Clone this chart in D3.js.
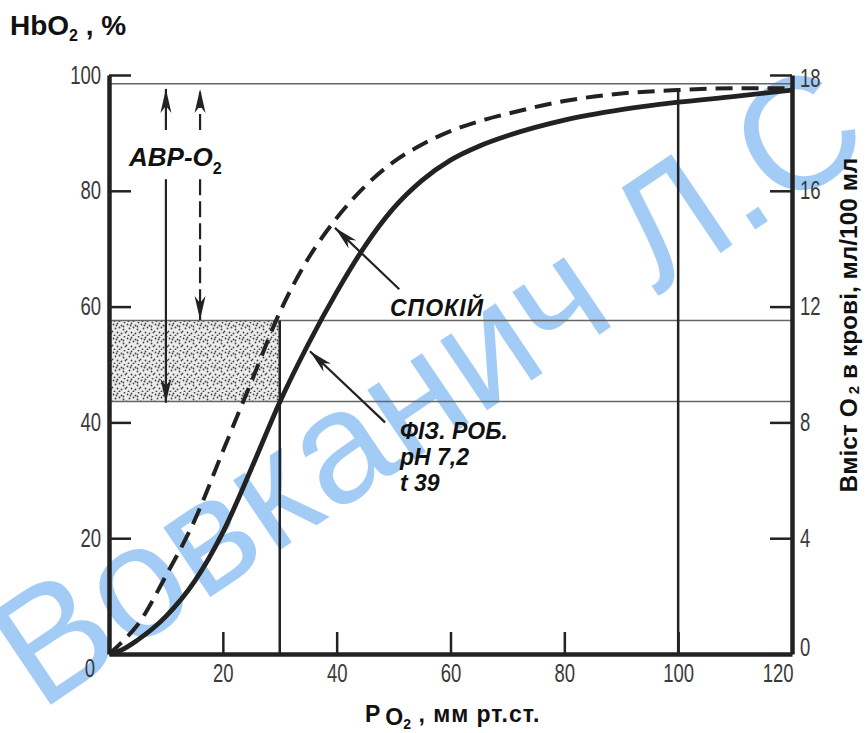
<!DOCTYPE html>
<meta charset="utf-8">
<html>
<style>
  body { margin: 0; background: #fff; }
  .axis path, .axis line { stroke: #222; }
  .axis text { font-family: "Liberation Sans", Arial, sans-serif; font-size: 25px; fill: #3a3a3a; }
  .curve { fill: none; stroke: #222; }
  .note { font-family: "Liberation Sans", Arial, sans-serif; font-weight: bold; font-style: italic; fill: #111; }
  .title { font-family: "Liberation Sans", Arial, sans-serif; font-weight: bold; fill: #111; }
</style>
<body>
<svg width="866" height="733"></svg>
<script src="https://cdn.jsdelivr.net/npm/d3@7"></script>
<script>
// P O2, mm Hg
var pressure = [0, 2, 5, 10, 15, 20, 25, 30, 35, 40, 45, 50, 55, 60, 65, 70, 80, 90, 100, 110, 120];
// rest curve (dashed)
var satRest = [0, 1.8, 5, 13.5, 23, 35, 47, 59, 68.3, 75.3, 80.8, 85, 88, 90.3, 92, 93.3, 95.5, 96.8, 97.4, 97.7, 97.7];
// physical work, pH 7.2, t 39 (solid)
var satWork = [0, 0.6, 2.4, 6.5, 12.5, 21, 32, 43.5, 53.5, 62.5, 70.5, 77, 81.8, 85.3, 87.7, 89.5, 92.2, 94, 95.3, 96.3, 97.4];

var xTicks = [20, 40, 60, 80, 100, 120];
var yTicks = [0, 20, 40, 60, 80, 100];
var rightLabels = ["0", "4", "8", "12", "16", "18"];

// reference levels
var topLevel = 98.5;
var arterial = 57.6, venous = 43.6;
var venousP = 30, arterialP = 100;

// arrows: [P, from, to]
var avdSolid = [[10, 90.5, 97.6], [10, 82, 43.4]];
var avdDashed = [[16, 90.5, 97.6], [16, 82, 57.7]];
var restArrow = [51, 63, 39.7, 73.6];
var workArrow = [48.5, 40, 35.3, 52.3];

var svg = d3.select("svg");

var x = d3.scaleLinear().domain([0, 120]).range([109, 792]);
var y = d3.scaleLinear().domain([0, 100]).range([654, 75]);

var defs = svg.append("defs");

// stipple for the a-v difference box
var pat = defs.append("pattern")
    .attr("id", "dots")
    .attr("width", 14).attr("height", 14)
    .attr("patternUnits", "userSpaceOnUse");
pat.append("rect").attr("width", 14).attr("height", 14).attr("fill", "#ececec");
[[1,2],[5,1],[9,3],[12,0],[3,6],[7,5],[11,7],[0,9],[5,10],[9,11],[13,10],[2,13],[7,13],[11,4],[4,3]].forEach(function(d) {
  pat.append("circle").attr("cx", d[0] + 0.5).attr("cy", d[1] + 0.5).attr("r", 0.9).attr("fill", "#444");
});

defs.append("marker")
    .attr("id", "head")
    .attr("viewBox", "-24 -6 26 12")
    .attr("refX", 0).attr("refY", 0)
    .attr("markerWidth", 26).attr("markerHeight", 12)
    .attr("markerUnits", "userSpaceOnUse")
    .attr("orient", "auto")
  .append("path")
    .attr("d", "M0,0 L-24,-5.5 L-17,0 L-24,5.5 Z")
    .attr("fill", "#222");

// watermark (under the drawing)
svg.append("text")
    .attr("transform", "translate(40,712) rotate(-34)")
    .style("font-family", "'Liberation Sans', Arial, sans-serif")
    .style("font-size", "159px")
    .attr("fill", "rgb(100,170,240)")
    .attr("fill-opacity", 0.6)
    .text("Вовканич Л.С.");

// shaded box
svg.append("rect")
    .attr("x", x(0)).attr("y", y(arterial))
    .attr("width", x(venousP) - x(0))
    .attr("height", y(venous) - y(arterial))
    .attr("fill", "url(#dots)");

// thin horizontal levels
[topLevel, arterial, venous].forEach(function(v) {
  svg.append("line")
      .attr("x1", x(0)).attr("x2", x(120))
      .attr("y1", y(v)).attr("y2", y(v))
      .attr("stroke", "#666").attr("stroke-width", 1.5);
});

// vertical lines at 30 and 100
svg.append("line")
    .attr("x1", x(venousP)).attr("x2", x(venousP))
    .attr("y1", y(0)).attr("y2", y(arterial))
    .attr("stroke", "#222").attr("stroke-width", 2.5);
svg.append("line")
    .attr("x1", x(arterialP)).attr("x2", x(arterialP))
    .attr("y1", y(0)).attr("y2", y(97.2))
    .attr("stroke", "#222").attr("stroke-width", 2.5);

// axes
var left = svg.append("g")
    .attr("class", "axis")
    .attr("transform", "translate(" + x(0) + ",0)")
    .call(d3.axisLeft(y).tickValues(yTicks).tickSize(-22).tickSizeOuter(0).tickPadding(8));
left.selectAll(".tick line").attr("stroke-width", 2.5);
left.selectAll(".tick").filter(function(d) { return d === 0; }).select("line").remove();
left.selectAll(".tick").filter(function(d) { return d === 0; }).select("text").attr("dy", "0.9em").attr("x", -14);

var bottom = svg.append("g")
    .attr("class", "axis")
    .attr("transform", "translate(0," + y(0) + ")")
    .call(d3.axisBottom(x).tickValues(xTicks).tickSize(-22).tickSizeOuter(0).tickPadding(10));
bottom.selectAll(".tick line").attr("stroke-width", 2.5);
bottom.selectAll(".tick").filter(function(d) { return d === 120; }).select("text")
    .attr("text-anchor", "end").attr("x", 1);

var right = svg.append("g")
    .attr("class", "axis")
    .attr("transform", "translate(" + x(120) + ",0)")
    .call(d3.axisRight(y).tickValues(yTicks).tickSize(-22).tickSizeOuter(0).tickPadding(8)
      .tickFormat(function(d, i) { return rightLabels[i]; }));
right.selectAll(".tick line").attr("stroke-width", 2.5);
right.selectAll(".tick").filter(function(d) { return d === 0; }).select("text").attr("dy", "0.05em");
right.selectAll(".tick").filter(function(d) { return d === 100; }).select("text").attr("dy", "0.45em");

svg.selectAll(".axis .domain").attr("stroke-width", 4.5);

// condensed look for the tick numbers
svg.selectAll(".axis .tick text").each(function() {
  var len = this.getComputedTextLength();
  d3.select(this).attr("textLength", len * 0.74).attr("lengthAdjust", "spacingAndGlyphs");
});

// curves
var line = d3.line()
    .x(function(d) { return x(d[0]); })
    .y(function(d) { return y(d[1]); })
    .curve(d3.curveMonotoneX);

svg.append("path")
    .attr("class", "curve")
    .attr("d", line(d3.zip(pressure, satRest)))
    .attr("stroke-width", 4)
    .attr("stroke-dasharray", "17,9");

svg.append("path")
    .attr("class", "curve")
    .attr("d", line(d3.zip(pressure, satWork)))
    .attr("stroke-width", 4.8);

// a-v difference arrows
avdSolid.forEach(function(a) {
  svg.append("line")
      .attr("x1", x(a[0])).attr("x2", x(a[0]))
      .attr("y1", y(a[1])).attr("y2", y(a[2]))
      .attr("stroke", "#222").attr("stroke-width", 2.2)
      .attr("marker-end", "url(#head)");
});
avdDashed.forEach(function(a) {
  svg.append("line")
      .attr("x1", x(a[0])).attr("x2", x(a[0]))
      .attr("y1", y(a[1])).attr("y2", y(a[2]))
      .attr("stroke", "#222").attr("stroke-width", 2.2)
      .attr("stroke-dasharray", "16,6")
      .attr("marker-end", "url(#head)");
});

[restArrow, workArrow].forEach(function(a) {
  svg.append("line")
      .attr("x1", x(a[0])).attr("y1", y(a[1]))
      .attr("x2", x(a[2])).attr("y2", y(a[3]))
      .attr("stroke", "#222").attr("stroke-width", 2.2)
      .attr("marker-end", "url(#head)");
});

// notes
var avd = svg.append("text").attr("class", "note")
    .attr("x", 129).attr("y", 166).style("font-size", "26px");
avd.append("tspan").text("АВР-О");
avd.append("tspan").attr("dy", 8).style("font-size", "16px").style("font-style", "normal").text("2");

svg.append("text").attr("class", "note")
    .attr("x", 390).attr("y", 316).style("font-size", "23px")
    .style("letter-spacing", "1px")
    .text("СПОКІЙ");

var work = svg.append("text").attr("class", "note").style("font-size", "23px");
work.append("tspan").attr("x", 400).attr("y", 439).text("ФІЗ. РОБ.");
work.append("tspan").attr("x", 400).attr("y", 465).text("pH 7,2");
work.append("tspan").attr("x", 400).attr("y", 491).text("t 39");

// axis titles
var yt = svg.append("text").attr("class", "title")
    .attr("x", 10).attr("y", 35).style("font-size", "28px");
yt.append("tspan").text("HbO");
yt.append("tspan").attr("dy", 6).style("font-size", "16px").text("2");
yt.append("tspan").attr("dy", -6).text(" , %");

var xt = svg.append("text").attr("class", "title")
    .attr("x", 365).attr("y", 722).style("font-size", "23px");
xt.append("tspan").text("P");
xt.append("tspan").attr("dx", 5).attr("dy", 3).text("O");
xt.append("tspan").attr("dy", 4).style("font-size", "14px").text("2");
xt.append("tspan").attr("dy", -7).style("letter-spacing", "1px").text(" , мм рт.ст.");

var rt = svg.append("text").attr("class", "title")
    .attr("transform", "translate(857,325) rotate(-90)")
    .attr("text-anchor", "middle")
    .style("font-size", "24.5px");
rt.append("tspan").text("Вміст O");
rt.append("tspan").attr("dy", 2).style("font-size", "15px").text(" 2");
rt.append("tspan").attr("dy", -2).text(" в крові, мл/100 мл");
</script>
</body>
</html>
